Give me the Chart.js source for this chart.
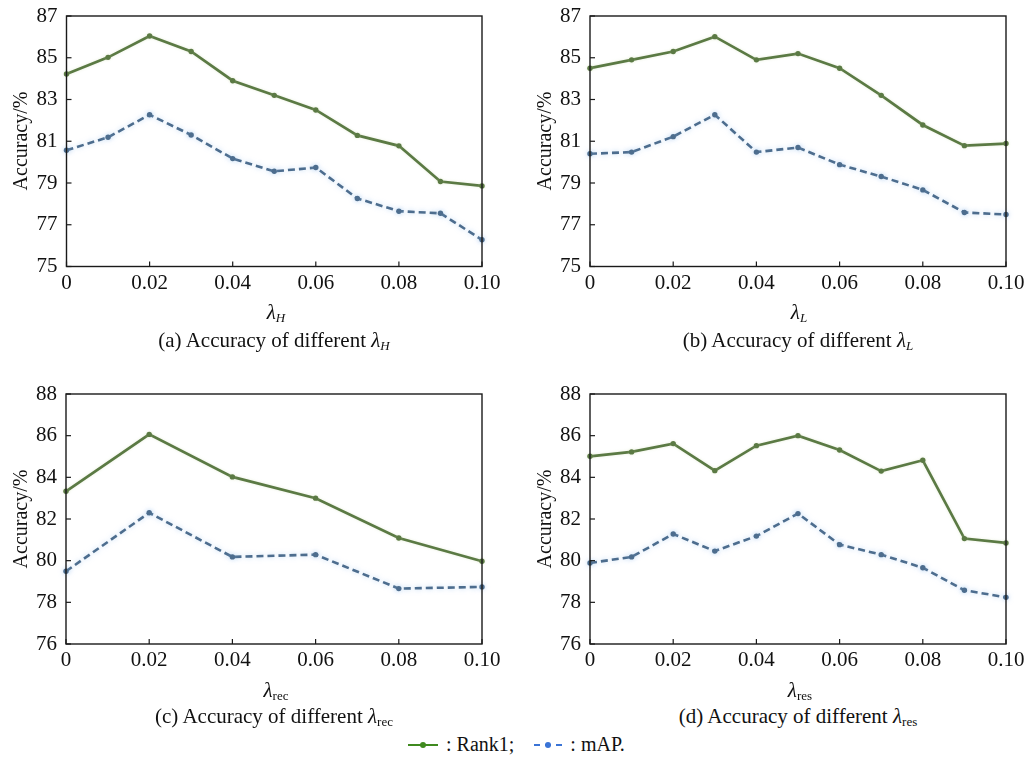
<!DOCTYPE html>
<html>
<head>
<meta charset="utf-8">
<script src="https://cdn.jsdelivr.net/npm/chart.js@4"></script>
<style>
  html, body { margin:0; padding:0; background:#fff; }
  body { width:1026px; height:764px; position:relative; overflow:hidden; font-family:"Liberation Serif","Times New Roman",serif; color:#111; }
  .cv { position:absolute; }
  .lbl { position:absolute; white-space:nowrap; transform:translate(-50%,-50%); font-size:21px; line-height:1; }
  .ylbl { position:absolute; white-space:nowrap; font-size:20px; line-height:1; transform:translate(-50%,-50%) rotate(-90deg); }
  .cap { position:absolute; white-space:nowrap; transform:translate(-50%,-50%); font-size:21px; line-height:1; }
  i { font-style:italic; }
  sub { font-size:62%; vertical-align:-0.25em; line-height:0; }
  .legend { position:absolute; left:408px; top:733px; font-size:20px; white-space:nowrap; display:flex; align-items:center; }
  .sw { position:relative; display:inline-block; width:30px; height:22px; }
  .sw .ln { position:absolute; left:0; right:0; top:10px; }
  .sw .dot { position:absolute; left:12px; top:8px; width:6px; height:6px; border-radius:50%; }
</style>
</head>
<body>
<canvas id="ca" class="cv" style="left:0;top:0" width="513" height="300"></canvas>
<canvas id="cb" class="cv" style="left:513px;top:0" width="513" height="300"></canvas>
<canvas id="cc" class="cv" style="left:0;top:378px" width="513" height="300"></canvas>
<canvas id="cd" class="cv" style="left:513px;top:378px" width="513" height="300"></canvas>

<div class="ylbl" style="left:20px;top:141px">Accuracy/%</div>
<div class="ylbl" style="left:544px;top:141px">Accuracy/%</div>
<div class="ylbl" style="left:20px;top:519px">Accuracy/%</div>
<div class="ylbl" style="left:544px;top:519px">Accuracy/%</div>

<div class="lbl" style="left:276px;top:312px"><i>λ</i><sub><i>H</i></sub></div>
<div class="lbl" style="left:799px;top:312px"><i>λ</i><sub><i>L</i></sub></div>
<div class="lbl" style="left:276px;top:690px"><i>λ</i><sub>rec</sub></div>
<div class="lbl" style="left:800px;top:690px"><i>λ</i><sub>res</sub></div>

<div class="cap" style="left:274px;top:340px">(a) Accuracy of different <i>λ</i><sub><i>H</i></sub></div>
<div class="cap" style="left:798px;top:340px">(b) Accuracy of different <i>λ</i><sub><i>L</i></sub></div>
<div class="cap" style="left:274px;top:716px">(c) Accuracy of different <i>λ</i><sub>rec</sub></div>
<div class="cap" style="left:798px;top:716px">(d) Accuracy of different <i>λ</i><sub>res</sub></div>

<div class="legend">
  <span class="sw"><span class="ln" style="border-top:2.5px solid #3f8a1f"></span><span class="dot" style="background:#3f8a1f"></span></span>
  <span style="margin-left:8px">: Rank1;</span>
  <span class="sw" style="margin-left:20px;width:28px"><span class="ln" style="border-top:2.5px dashed #3b74d6"></span><span class="dot" style="background:#3b74d6;left:11px"></span></span>
  <span style="margin-left:8px">: mAP.</span>
</div>

<script>
// ---------- data ----------
const lambdaFine = [0, 0.01, 0.02, 0.03, 0.04, 0.05, 0.06, 0.07, 0.08, 0.09, 0.10];
const lambdaCoarse = [0, 0.02, 0.04, 0.06, 0.08, 0.10];

const rank1A = [84.22, 85.02, 86.04, 85.3, 83.9, 83.2, 82.5, 81.28, 80.78, 79.07, 78.86];
const mapA   = [80.57, 81.19, 82.27, 81.3, 80.17, 79.56, 79.74, 78.26, 77.65, 77.55, 76.28];

const rank1B = [84.5, 84.9, 85.3, 86.01, 84.9, 85.2, 84.5, 83.2, 81.78, 80.79, 80.89];
const mapB   = [80.4, 80.48, 81.22, 82.27, 80.48, 80.7, 79.88, 79.31, 78.67, 77.59, 77.49];

const rank1C = [83.33, 86.06, 84.02, 83.0, 81.09, 79.97];
const mapC   = [79.49, 82.3, 80.18, 80.29, 78.66, 78.74];

const rank1D = [85.01, 85.22, 85.62, 84.32, 85.52, 86.0, 85.31, 84.3, 84.82, 81.06, 80.85];
const mapD   = [79.89, 80.18, 81.28, 80.46, 81.18, 82.26, 80.77, 80.29, 79.66, 78.58, 78.24];

const yRangeTop = [75, 87];
const yRangeBottom = [76, 88];
const yStep = 2;
const xTickLabels = ['0', '0.02', '0.04', '0.06', '0.08', '0.10'];

// ---------- styling ----------
const FONT = '"Liberation Serif","Times New Roman",serif';
const GREEN = '#5b7a44';
const BLUE = '#4d6d8e';

const boxPlugin = {
  id: 'boxTicks',
  beforeDatasetDraw(chart, args) {
    const ctx = chart.ctx;
    ctx.save();
    if (args.index === 0) {
      ctx.shadowColor = 'rgba(140,185,235,0.55)';
      ctx.shadowBlur = 5;
    } else {
      ctx.shadowColor = 'rgba(200,215,170,0.4)';
      ctx.shadowBlur = 3;
    }
  },
  afterDatasetDraw(chart) {
    chart.ctx.restore();
  },
  afterDatasetsDraw(chart) {
    const { ctx, chartArea: a, scales } = chart;
    ctx.save();
    ctx.strokeStyle = '#1a1a1a';
    ctx.lineWidth = 1.4;
    ctx.strokeRect(a.left, a.top, a.right - a.left, a.bottom - a.top);
    ctx.lineWidth = 1.2;
    const xs = scales.x, ys = scales.y;
    xs.ticks.forEach(t => {
      const px = xs.getPixelForValue(t.value);
      ctx.beginPath(); ctx.moveTo(px, a.bottom); ctx.lineTo(px, a.bottom - 5); ctx.stroke();
    });
    ys.ticks.forEach(t => {
      const py = ys.getPixelForValue(t.value);
      ctx.beginPath(); ctx.moveTo(a.left, py); ctx.lineTo(a.left + 5, py); ctx.stroke();
    });
    ctx.restore();
  }
};

function makeChart(id, xs, r1, mp, yr, yAxisWidth, padRight, xAxisHeight) {
  const toPts = arr => arr.map((v, i) => ({ x: xs[i], y: v }));
  new Chart(document.getElementById(id), {
    type: 'line',
    data: {
      datasets: [
        { label: 'mAP', data: toPts(mp), borderColor: BLUE, backgroundColor: BLUE,
          borderWidth: 2.6, borderDash: [7, 4], pointRadius: 2.7, pointHoverRadius: 2.7,
          pointBorderWidth: 0, tension: 0, clip: false },
        { label: 'Rank1', data: toPts(r1), borderColor: GREEN, backgroundColor: GREEN,
          borderWidth: 2.7, pointRadius: 2.7, pointHoverRadius: 2.7,
          pointBorderWidth: 0, tension: 0, clip: false }
      ]
    },
    options: {
      responsive: false, animation: false, devicePixelRatio: 1,
      layout: { padding: { top: 16, right: padRight, left: 0, bottom: 0 } },
      plugins: { legend: { display: false }, tooltip: { enabled: false } },
      scales: {
        x: {
          type: 'linear', min: 0, max: 0.1,
          afterBuildTicks: s => { s.ticks = lambdaCoarse.map(v => ({ value: v })); },
          afterFit: s => { s.height = xAxisHeight; s.paddingLeft = 0; s.paddingRight = 0; },
          grid: { display: false, drawTicks: false },
          border: { display: false },
          ticks: { color: '#111', font: { family: FONT, size: 21 }, padding: 4,
                   maxRotation: 0, autoSkip: false,
                   callback: (v, i) => xTickLabels[i] }
        },
        y: {
          min: yr[0], max: yr[1],
          ticks: { stepSize: yStep, color: '#111', font: { family: FONT, size: 21 }, padding: 9 },
          afterFit: s => { s.width = yAxisWidth; s.paddingTop = 0; s.paddingBottom = 0; },
          grid: { display: false, drawTicks: false },
          border: { display: false }
        }
      }
    },
    plugins: [boxPlugin]
  });
}

makeChart('ca', lambdaFine, rank1A, mapA, yRangeTop, 66.5, 31, 33.5);
makeChart('cb', lambdaFine, rank1B, mapB, yRangeTop, 77, 20, 33.5);
makeChart('cc', lambdaCoarse, rank1C, mapC, yRangeBottom, 66, 31, 34);
makeChart('cd', lambdaFine, rank1D, mapD, yRangeBottom, 77, 20, 34);
</script>
</body>
</html>
